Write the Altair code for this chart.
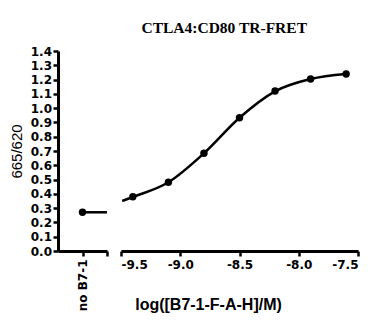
import altair as alt
import pandas as pd

# ---- data ----
ctrl_label = "no B7-1"
ctrl_value = 0.271

log_conc = [-9.4, -9.1, -8.8, -8.5, -8.2, -7.9, -7.6]
ratio = [0.380, 0.481, 0.684, 0.933, 1.120, 1.204, 1.239]

# fitted curve
fit_x = [-9.49, -9.4, -9.1, -8.8, -8.5, -8.2, -7.9, -7.6]
fit_y = [0.350, 0.378, 0.481, 0.684, 0.933, 1.118, 1.204, 1.239]

y_ticks = [round(i * 0.1, 1) for i in range(15)]
x_ticks = [-9.5, -9.0, -8.5, -8.0, -7.5]

title_text = "CTLA4:CD80 TR-FRET"
y_title = "665/620"
x_title = "log([B7-1-F-A-H]/M)"

# ---- tables ----
ctrl_pt = pd.DataFrame({"x": [1], "y": [ctrl_value]})
ctrl_line = pd.DataFrame({"x": [1, 2], "y": [ctrl_value, ctrl_value]})
pts = pd.DataFrame({"x": log_conc, "y": ratio})
fit = pd.DataFrame({"x": fit_x, "y": fit_y})

LABEL_FONT = "DejaVu Sans"
TITLE_FONT = "Liberation Sans"

yscale = alt.Scale(domain=[0, 1.4], nice=False, zero=True)

y_axis = alt.Axis(
    values=y_ticks, format=".1f", title=y_title,
    titleFont=TITLE_FONT, titleFontSize=15, titleFontWeight="normal",
    titlePadding=6, labelPadding=1.5, grid=False,
)

left_x = alt.X(
    "x:Q",
    scale=alt.Scale(domain=[0, 2], nice=False, zero=False),
    axis=alt.Axis(
        values=[1, 2], title=None, grid=False, labelAngle=-90,
        labelExpr=f"datum.value == 1 ? '{ctrl_label}' : ''",
        labelPadding=3,
    ),
)

left = alt.layer(
    alt.Chart(ctrl_line).mark_line(color="black", strokeWidth=2.5).encode(
        x=left_x, y=alt.Y("y:Q", scale=yscale, axis=y_axis)
    ),
    alt.Chart(ctrl_pt).mark_circle(color="black", size=55, opacity=1).encode(
        x=left_x, y=alt.Y("y:Q", scale=yscale, axis=y_axis)
    ),
).properties(width=49, height=200)

right_x = alt.X(
    "x:Q",
    scale=alt.Scale(domain=[-9.5, -7.5], nice=False, zero=False),
    axis=alt.Axis(
        values=x_ticks, grid=False, title=x_title,
        labelExpr="replace(format(datum.value, '.1f'), '\u2212', '-')",
        titleFont=TITLE_FONT, titleFontSize=16, titleFontWeight="bold",
        titleX=87, titleY=58, titleAlign="center", titleBaseline="alphabetic",
        labelPadding=3,
    ),
)

right = alt.layer(
    alt.Chart(fit).mark_line(color="black", strokeWidth=2.5, interpolate="monotone").encode(
        x=right_x, y=alt.Y("y:Q", scale=yscale, axis=None)
    ),
    alt.Chart(pts).mark_circle(color="black", size=55, opacity=1).encode(
        x=right_x, y=alt.Y("y:Q", scale=yscale, axis=None)
    ),
).properties(width=237, height=200)

chart = (
    alt.hconcat(left, right, spacing=14, bounds="flush")
    .resolve_scale(x="independent")
    .properties(
        title=alt.TitleParams(
            title_text, font="Liberation Serif", fontSize=15.5, fontWeight="bold",
            color="black", anchor="middle", dx=40, offset=9,
        ),
        padding={"left": 9, "top": 20, "right": 10, "bottom": 5},
        background="white",
    )
    .configure_view(stroke=None)
    .configure_axis(
        domainColor="black", domainWidth=3, tickColor="black", tickWidth=2.5,
        tickSize=5, labelColor="black", labelFont=LABEL_FONT, labelFontSize=12,
        labelFontWeight="bold", titleColor="black",
    )
)

chart.save("out.html", embed_options={"renderer": "svg", "actions": False})
